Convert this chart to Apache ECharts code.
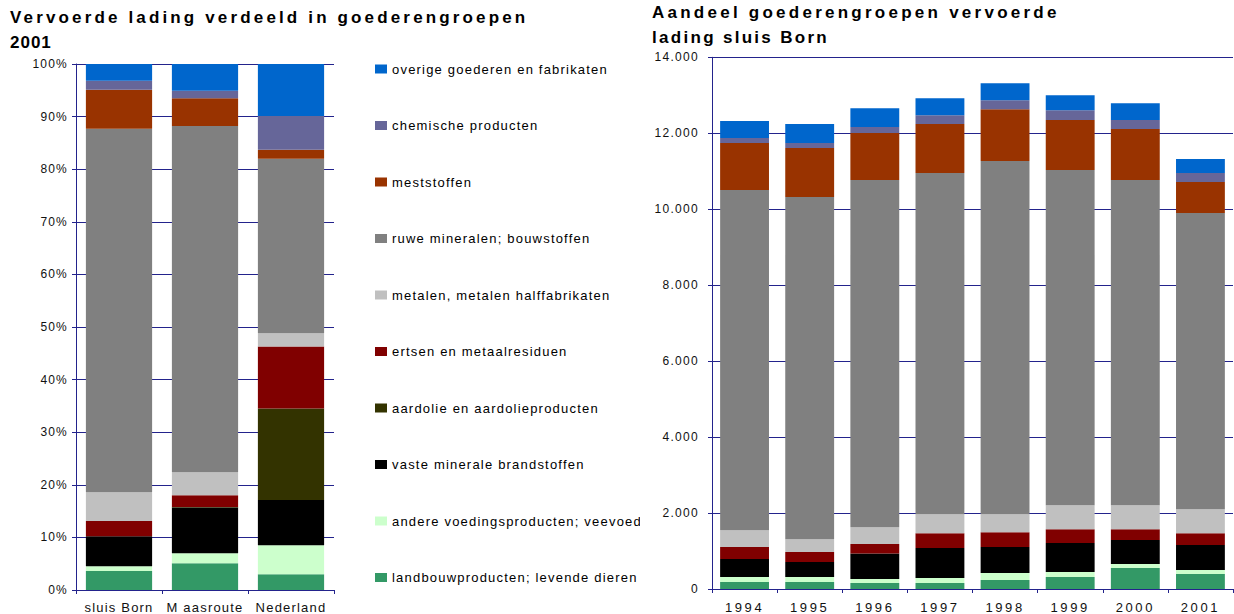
<!DOCTYPE html>
<html><head><meta charset="utf-8">
<script src="https://cdn.jsdelivr.net/npm/echarts@6.0.0/dist/echarts.min.js"></script>
<style>
html,body{margin:0;padding:0;background:#fff;width:1234px;height:614px;overflow:hidden;}
#left{position:absolute;left:0;top:0;width:640px;height:614px;overflow:hidden;}
#right{position:absolute;left:640px;top:0;width:594px;height:614px;overflow:hidden;}
</style></head><body>
<div id="left"></div><div id="right"></div>
<script>
// ---------- data ----------
const leftCategories = ['sluis Born', 'M aasroute', 'Nederland'];
const years = ['1994', '1995', '1996', '1997', '1998', '1999', '2000', '2001'];
const yTicksPct = [0, 10, 20, 30, 40, 50, 60, 70, 80, 90, 100];
const yTicksTon = [0, 2000, 4000, 6000, 8000, 10000, 12000, 14000];

// series, from bottom of the stack to the top
const seriesNames = [
  'landbouwproducten; levende dieren',
  'andere voedingsproducten; veevoeders',
  'vaste minerale brandstoffen',
  'aardolie en aardolieproducten',
  'ertsen en metaalresiduen',
  'metalen, metalen halffabrikaten',
  'ruwe mineralen; bouwstoffen',
  'meststoffen',
  'chemische producten',
  'overige goederen en fabrikaten'
];
const seriesColors = ['#339966', '#CCFFCC', '#000000', '#333300', '#800000',
                      '#C0C0C0', '#808080', '#993300', '#666699', '#0066CC'];

// left chart: share (%) 2001 — sluis Born, Maasroute, Nederland
const pctLandbouw = [3.6, 5.1, 3.0];
const pctAndereVoeding = [0.9, 1.9, 5.5];
const pctVasteBrandstof = [5.7, 8.7, 8.6];
const pctAardolie = [0, 0.1, 17.4];
const pctErtsen = [2.9, 2.2, 11.8];
const pctMetalen = [5.5, 4.4, 2.5];
const pctRuweMineralen = [69.1, 65.8, 33.2];
const pctMeststoffen = [7.4, 5.3, 1.7];
const pctChemisch = [1.7, 1.4, 6.4];
const pctOverige = [3.2, 5.1, 9.9];

// right chart: cargo sluis Born (x 1000 ton), 1994..2001
const tonLandbouw = [184, 184, 158, 158, 236, 315, 552, 394];
const tonAndereVoeding = [131, 131, 105, 131, 184, 132, 105, 105];
const tonVasteBrandstof = [473, 394, 674, 788, 683, 761, 630, 657];
const tonAardolie = [0, 0, 0, 0, 0, 0, 0, 0];
const tonErtsen = [315, 263, 245, 394, 394, 368, 289, 315];
const tonMetalen = [447, 341, 447, 499, 473, 630, 630, 630];
const tonRuweMineralen = [8957, 9010, 9141, 8983, 9299, 8826, 8564, 7802];
const tonMeststoffen = [1234, 1287, 1234, 1288, 1366, 1314, 1339, 814];
const tonChemisch = [132, 131, 158, 236, 236, 262, 237, 236];
const tonOverige = [447, 500, 499, 447, 447, 394, 446, 368];

const leftTitle = 'Vervoerde lading verdeeld in goederengroepen\n2001';
const rightTitle = 'Aandeel goederengroepen vervoerde\nlading sluis Born';

// ---------- chart ----------
const FONT = '"Liberation Sans", Arial, sans-serif';
const NAVY = '#23238c';

const leftData = [pctLandbouw, pctAndereVoeding, pctVasteBrandstof, pctAardolie, pctErtsen,
                  pctMetalen, pctRuweMineralen, pctMeststoffen, pctChemisch, pctOverige];
const rightData = [tonLandbouw, tonAndereVoeding, tonVasteBrandstof, tonAardolie, tonErtsen,
                   tonMetalen, tonRuweMineralen, tonMeststoffen, tonChemisch, tonOverige];

function makeSeries(dataArrs, gap) {
  return seriesNames.map((n, i) => ({
    name: n, type: 'bar', stack: 'total', data: dataArrs[i],
    barCategoryGap: gap, silent: true,
    itemStyle: { color: seriesColors[i] },
    emphasis: { disabled: true }
  }));
}

function thousands(v) { return String(v).replace(/\B(?=(\d{3})+(?!\d))/g, '.'); }

function applySpacing(chart, rule) {
  chart.getDom().querySelectorAll('text').forEach(t => {
    const s = rule(t.textContent.trim());
    t.setAttribute('letter-spacing', s + 'px');
    t.style.letterSpacing = s + 'px';
  });
}

const leftChart = echarts.init(document.getElementById('left'), null, { renderer: 'svg' });
leftChart.setOption({
  animation: false,
  backgroundColor: '#fff',
  title: {
    text: leftTitle, left: 10, top: 4.5, padding: 0,
    textStyle: { fontSize: 17, fontWeight: 'bold', lineHeight: 25, color: '#000', fontFamily: FONT }
  },
  legend: {
    data: seriesNames.slice().reverse(),
    orient: 'vertical', left: 375, top: 62, padding: 0,
    itemWidth: 12, itemHeight: 9, itemGap: 42.5,
    icon: 'rect', selectedMode: false,
    textStyle: { fontSize: 13, color: '#000', fontFamily: FONT, lineHeight: 14 }
  },
  grid: { left: 76, top: 64, width: 258, height: 527.5, containLabel: false },
  xAxis: {
    type: 'category', data: leftCategories,
    axisLine: { show: true, lineStyle: { color: NAVY } },
    axisTick: { show: true, length: 4, lineStyle: { color: NAVY } },
    axisLabel: { fontSize: 13, color: '#111', margin: 11, fontFamily: FONT, interval: 0 }
  },
  yAxis: {
    type: 'value', min: yTicksPct[0], max: yTicksPct[yTicksPct.length - 1], interval: yTicksPct[1] - yTicksPct[0],
    axisLine: { show: true, lineStyle: { color: NAVY } },
    axisTick: { show: true, length: 4, lineStyle: { color: NAVY } },
    axisLabel: { formatter: '{value}%', fontSize: 12, color: '#111', margin: 8, fontFamily: FONT },
    splitLine: { show: true, lineStyle: { color: NAVY, width: 1 } }
  },
  series: makeSeries(leftData, '23%')
});

const rightChart = echarts.init(document.getElementById('right'), null, { renderer: 'svg' });
rightChart.setOption({
  animation: false,
  backgroundColor: '#fff',
  title: {
    text: rightTitle, left: 12, top: 0, padding: 0,
    textStyle: { fontSize: 17, fontWeight: 'bold', lineHeight: 25, color: '#000', fontFamily: FONT }
  },
  grid: { left: 72, top: 57.3, width: 521, height: 534, containLabel: false },
  xAxis: {
    type: 'category', data: years,
    axisLine: { show: true, lineStyle: { color: NAVY } },
    axisTick: { show: true, length: 4, lineStyle: { color: NAVY } },
    axisLabel: { fontSize: 13, color: '#111', margin: 12, fontFamily: FONT, interval: 0 }
  },
  yAxis: {
    type: 'value', min: yTicksTon[0], max: yTicksTon[yTicksTon.length - 1], interval: yTicksTon[1] - yTicksTon[0],
    axisLine: { show: true, lineStyle: { color: NAVY } },
    axisTick: { show: true, length: 4, lineStyle: { color: NAVY } },
    axisLabel: { formatter: thousands, fontSize: 12, color: '#111', margin: 13, fontFamily: FONT },
    splitLine: { show: true, lineStyle: { color: NAVY, width: 1 } }
  },
  series: makeSeries(rightData, '25%')
});

const leftRule = s => s.indexOf('Vervoerde') === 0 ? 3.15 : (s === '2001' ? 1.0 : 1.2);
const rightRule = s => s.indexOf('Aandeel') === 0 ? 3.25 : (s.indexOf('lading sluis') === 0 ? 2.3 : (/^\d{4}$/.test(s) ? 2.6 : 1.3));

function spaceAll() {
  applySpacing(leftChart, leftRule);
  applySpacing(rightChart, rightRule);
}
leftChart.on('finished', () => applySpacing(leftChart, leftRule));
rightChart.on('finished', () => applySpacing(rightChart, rightRule));
leftChart.getZr().refreshImmediately();
rightChart.getZr().refreshImmediately();
spaceAll();
setTimeout(spaceAll, 50);
setTimeout(spaceAll, 300);
</script>
</body></html>
